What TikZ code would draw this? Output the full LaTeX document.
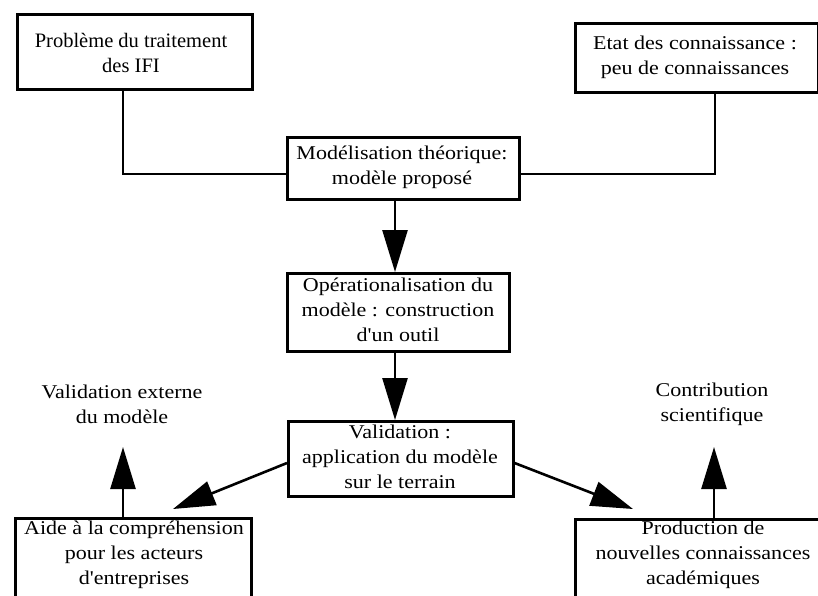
\documentclass[tikz,border=0pt]{standalone}
\usepackage{fontspec}
\setmainfont{Liberation Serif}
\newfontfamily\timesf{Liberation Serif}
\newfontfamily\palf[FakeStretch=1.13]{Liberation Serif}
\usetikzlibrary{arrows.meta}
\tikzset{
  boxx/.style={draw, line width=2.6pt, inner sep=0pt, anchor=north west},
  lbl/.style={align=center, font=\palf\fontsize{19.5}{25}\selectfont, inner sep=0pt},
  conn/.style={line width=2.6pt},
  arr/.style={line width=2.6pt, -{Triangle[length=42pt,width=25pt]}},
}
\begin{document}
\begin{tikzpicture}[x=1pt,y=-1pt]
\useasboundingbox (0,0) rectangle (818,595);
% boxes
\node[boxx, minimum width=235, minimum height=75] (b1) at (16,13) {};
\node[boxx, minimum width=243, minimum height=69] (b2) at (574,22) {};
\node[boxx, minimum width=232, minimum height=62] (b3) at (286,136) {};
\node[boxx, minimum width=222, minimum height=78] (b4) at (286,272) {};
\node[boxx, minimum width=225, minimum height=75] (b5) at (287,420) {};
\node[boxx, minimum width=236, minimum height=90] (b6) at (14,517) {};
\node[boxx, minimum width=244, minimum height=90] (b7) at (574,518) {};
% texts
\node[align=center, inner sep=0pt, font=\timesf\fontsize{20.5}{25}\selectfont] (t1) at (131,53) {Problème du traitement\\des IFI};
\node[lbl] (t2) at (695,57) {Etat des connaissance :\\peu de connaissances};
\node[lbl] (t3) at (402,167) {Modélisation théorique:\\modèle proposé};
\node[lbl] (t4) at (398,310) {Opérationalisation du\\modèle : construction\\d'un outil};
\node[lbl] (t5) at (400,457) {Validation :\\application du modèle\\sur le terrain};
\node[lbl] (t6) at (134,555) {Aide à la compréhension\\pour les acteurs\\d'entreprises};
\node[lbl] (t7) at (703,555) {Production de\\nouvelles connaissances\\académiques};
\node[lbl] (l1) at (122,404) {Validation externe\\du modèle};
\node[lbl] (l2) at (712,404) {Contribution\\scientifique};
% connectors
\coordinate (c1) at (123,174);
\coordinate (c2) at (715,174);
\draw[conn] (b1.south -| c1) -- (c1) -- (b3.west |- c1);
\draw[conn] (b2.south -| c2) -- (c2) -- (b3.east |- c2);
\draw[arr] (b3.south -| 395,0) -- (b4.north -| 395,0);
\draw[arr] (b4.south -| 395,0) -- (b5.north -| 395,0);
\coordinate (d1) at (173,509);
\coordinate (d2) at (633,509);
\draw[arr] (b5.west |- 0,463) -- (d1);
\draw[arr] (b5.east |- 0,463) -- (d2);
\coordinate (u1) at (123,447);
\coordinate (u2) at (714,447);
\draw[arr] (b6.north -| u1) -- (u1);
\draw[arr] (b7.north -| u2) -- (u2);
\end{tikzpicture}
\end{document}
